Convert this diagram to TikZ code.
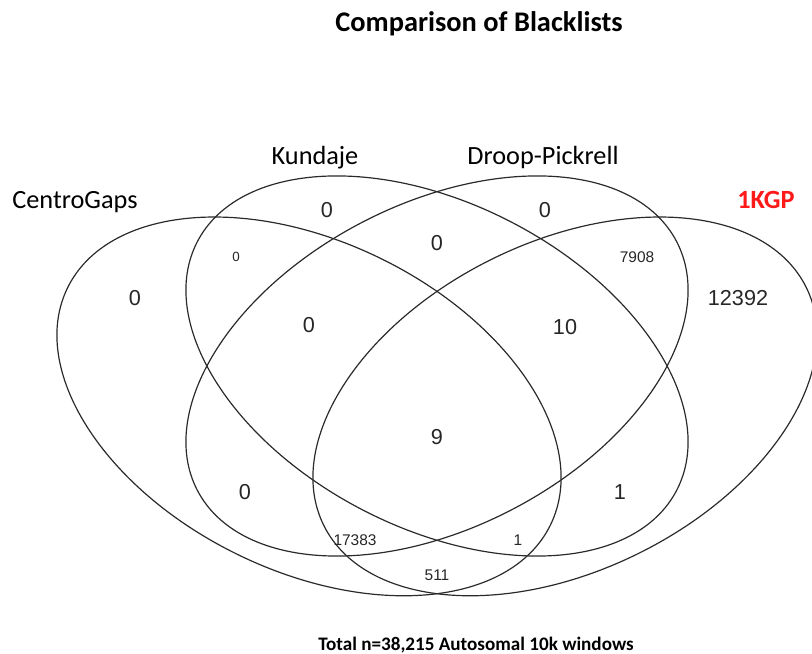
\documentclass[tikz,border=0pt]{standalone}
\usepackage{fontspec}
\setmainfont{Carlito}
\newfontfamily\numfont{Liberation Sans}
\usepackage{xcolor}
\usepackage{tikz}
\definecolor{cLine}{HTML}{2A2A2A}
\definecolor{cNum}{HTML}{262626}
\definecolor{cKGP}{HTML}{FF1A1A}

\begin{document}
\begin{tikzpicture}[
  every node/.style={inner sep=0pt},
  venn/.style={draw=cLine, line width=0.85pt},
  lab/.style={font=\fontsize{18.7}{21}\selectfont, text depth=0pt},
  head/.style={font=\bfseries\fontsize{18.7}{21}\selectfont, text depth=0pt},
  cntbig/.style={font=\numfont\fontsize{15.4}{17}\selectfont, text=cNum},
  cntsm/.style={font=\numfont\fontsize{11}{13}\selectfont, text=cNum}
]
\useasboundingbox (0,0) rectangle (20.3,16.35);

% Outer sets
\draw[venn, rotate around={-26.2:(7.725,6.19)}] (7.725,6.19) ellipse [x radius=6.725, y radius=4.11];
\draw[venn, rotate around={26.2:(14.125,6.19)}] (14.125,6.19) ellipse [x radius=6.725, y radius=4.11];
% Inner sets
\draw[venn, rotate around={-27.4:(10.925,7.2)}] (10.925,7.2) ellipse [x radius=6.75, y radius=4.05];
\draw[venn, rotate around={27.4:(10.925,7.2)}] (10.925,7.2) ellipse [x radius=6.75, y radius=4.05];

% Set names
\node[head, font=\bfseries\fontsize{20.2}{23}\selectfont] (title) at (11.975,15.8) {Comparison of Blacklists};
\node[lab] (centro) at (1.875,11.35) {CentroGaps};
\node[lab] (kund) at (7.875,12.475) {Kundaje};
\node[lab] (droop) at (13.575,12.475) {Droop-Pickrell};
\node[head, text=cKGP] (kgp) at (19.15,11.35) {1KGP};

% Region counts
\node[cntbig] (nC) at (3.375,8.9) {0};
\node[cntbig] (nK) at (8.175,11.1) {0};
\node[cntbig] (nD) at (13.625,11.1) {0};
\node[cntbig] (nKD) at (10.925,10.275) {0};
\node[cntbig] (nCKD) at (7.725,8.225) {0};
\node[cntbig] (nKDG) at (14.125,8.175) {10};
\node[cntbig] (nG) at (18.45,8.9) {12392};
\node[cntbig] (nAll) at (10.925,5.425) {9};
\node[cntbig] (nCD) at (6.125,4.05) {0};
\node[cntbig] (nKG) at (15.5,4.05) {1};
\node[cntsm, font=\numfont\fontsize{9.5}{11}\selectfont] (nCK) at (5.9,9.925) {0};
\node[cntsm] (nDG) at (15.925,9.925) {7908};
\node[cntsm] (nCDG) at (8.875,2.85) {17383};
\node[cntsm] (nCKG) at (12.95,2.85) {1};
\node[cntsm] (nCG) at (10.925,1.975) {511};

\node[head, font=\bfseries\fontsize{13.6}{16}\selectfont, anchor=base] (total) at (11.9,0.09) {Total n=38,215 Autosomal 10k windows};
\end{tikzpicture}
\end{document}
